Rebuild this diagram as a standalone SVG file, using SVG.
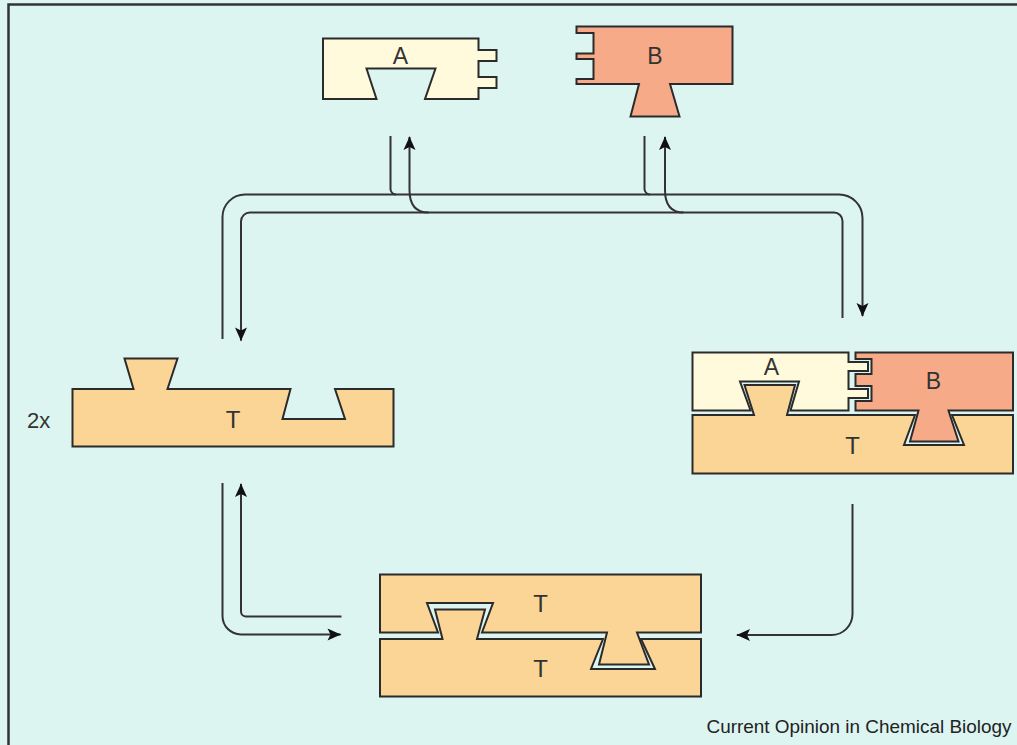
<svg xmlns="http://www.w3.org/2000/svg" width="1017" height="745" viewBox="0 0 1017 745">
<style>
.bg{fill:#dcf5f1}
.frame{fill:none;stroke:#333;stroke-width:2.5}
.pa{fill:#fffadb;stroke:#2b2b2b;stroke-width:2;stroke-linejoin:miter}
.pb{fill:#f6aa88;stroke:#2b2b2b;stroke-width:2;stroke-linejoin:miter}
.pt{fill:#fad596;stroke:#2b2b2b;stroke-width:2;stroke-linejoin:miter}
.lbl{font-family:"Liberation Sans",Arial,sans-serif;font-size:23px;fill:#333;text-anchor:middle}
.lt{font-size:24px}
.cn{fill:none;stroke:#333;stroke-width:2}
.cr{font-family:"Liberation Sans",Arial,sans-serif;font-size:19px;fill:#222}
</style>
<defs>
<marker id="ah" viewBox="-15 -7 16 14" refX="0" refY="0" markerWidth="16" markerHeight="14" orient="auto" markerUnits="userSpaceOnUse">
<path d="M1,0 L-3,-1.5 L-13,-6 L-10,0 L-13,6 L-3,1.5 Z" fill="#111"/>
</marker>
</defs>
<rect class="bg" x="0" y="0" width="1017" height="745"/>
<path class="frame" d="M8.5,745 V4.5 H1017"/>

<g id="blockA">
<path class="pa" d="M323,38.5 H478.5 V50 H496.5 V61 H478.5 V77 H496.5 V88 H478.5 V99 H425 L435.5,68.5 H366.5 L376.5,99 H323 Z"/>
<text class="lbl" x="400.5" y="63.5">A</text>
</g>

<g id="blockB">
<path class="pb" d="M576.5,26.5 H732.5 V84 H670 L679.5,116.5 H630.5 L639,84 H576.5 V79 H593.5 V59 H576.5 V53.5 H593.5 V33 H576.5 Z"/>
<text class="lbl" x="655" y="63.5">B</text>
</g>

<g id="templateT">
<path class="pt" d="M72.5,389 H133.5 L124.5,358.5 H177.5 L167.5,389 H290.5 L282.5,419 H345 L335,389 H393.5 V446.5 H72.5 Z"/>
<text class="lbl lt" x="233" y="428">T</text>
<text class="lbl" x="27" y="428" style="text-anchor:start;font-size:22px">2x</text>
</g>

<g id="complexABT">
<path class="pt" d="M692.5,415 H754 L744.5,385 H795 L787,415 H915 L904,445 H964 L952,415 H1013 V473.5 H692.5 Z"/>
<path class="pa" d="M692.5,352.5 H848.5 V362 H868 V371 H848.5 V389 H868 V398 H848.5 V410.5 H790.5 L799,381.5 H740 L750.5,410.5 H692.5 Z"/>
<path class="pb" d="M855.5,352.5 H1013 V410.5 H948.5 L958.5,441.5 H910 L918.5,410.5 H855.5 V401 H871.5 V386 H855.5 V374 H871.5 V359 H855.5 Z"/>
<text class="lbl" x="771.5" y="375">A</text>
<text class="lbl" x="933.5" y="389">B</text>
<text class="lbl lt" x="852.5" y="453.5">T</text>
</g>

<g id="dimerTT">
<path class="pt" d="M380,574.5 H701 V632.5 H637 L649,664.5 H599 L607,632.5 H482 L493,603 H427 L438,632.5 H380 Z"/>
<path class="pt" d="M380,639 H442.5 L435,609.5 H485 L477,639 H603 L591,669 H655 L641,639 H701 V696.5 H380 Z"/>
<text class="lbl lt" x="540.5" y="611.5">T</text>
<text class="lbl lt" x="540.5" y="676.5">T</text>
</g>

<g id="connectors">
<path class="cn" marker-end="url(#ah)" d="M222.5,339 V217 A22.5,22.5 0 0 1 245,194.5 H839 A23.5,23.5 0 0 1 862.5,218 V316"/>
<path class="cn" marker-end="url(#ah)" d="M842.5,318 V221 A8.5,8.5 0 0 0 834,212.5 H250 A9,9 0 0 0 241,221.5 V340.5"/>
<path class="cn" d="M390.5,136 V189 A5.5,5.5 0 0 0 396,194.5"/>
<path class="cn" marker-end="url(#ah)" d="M428.5,212.5 Q409.5,212.5 409.5,190 V137"/>
<path class="cn" d="M644.5,136 V189 A5.5,5.5 0 0 0 650,194.5"/>
<path class="cn" marker-end="url(#ah)" d="M683.5,212.5 Q665,212.5 665,190 V137"/>
<path class="cn" marker-end="url(#ah)" d="M222.5,483 V616 A18.5,18.5 0 0 0 241,634.5 H340.5"/>
<path class="cn" marker-end="url(#ah)" d="M341.5,616.5 H246 A5,5 0 0 1 241,611.5 V484"/>
<path class="cn" marker-end="url(#ah)" d="M852.5,504 V614 A21,21 0 0 1 831.5,635 H737"/>
</g>

<text class="cr" x="706.5" y="733" textLength="305" lengthAdjust="spacingAndGlyphs">Current Opinion in Chemical Biology</text>
</svg>
